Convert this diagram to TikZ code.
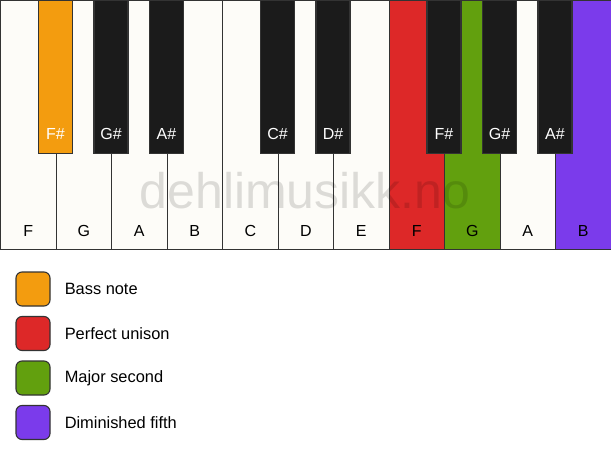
\documentclass[tikz,border=0pt]{standalone}
\usepackage{fontspec}
\setmainfont{Liberation Sans}
\usepackage{tikz}
\usetikzlibrary{positioning}
\definecolor{keywhite}{HTML}{FDFCF8}
\definecolor{keyblack}{HTML}{1B1B1B}
\definecolor{keyedge}{HTML}{333333}
\definecolor{bassorange}{HTML}{F39C0F}
\definecolor{unisonred}{HTML}{DD2828}
\definecolor{secondgreen}{HTML}{62A00E}
\definecolor{fifthpurple}{HTML}{7B3BEB}
\tikzstyle{wkey}=[draw=keyedge, line width=1.1pt, minimum width=55.5pt, minimum height=249pt, inner sep=0pt, anchor=north west]
\tikzstyle{bkey}=[draw=keyedge, line width=1.1pt, minimum width=34pt, minimum height=153pt, inner sep=0pt, anchor=north]
\tikzstyle{keytext}=[font=\fontsize{16}{19}\selectfont, inner sep=0pt]
\tikzstyle{legbox}=[draw=keyedge, line width=1.1pt, rounded corners=6pt, minimum size=34pt, inner sep=0pt]
\tikzstyle{legtext}=[font=\fontsize{16.4}{19}\selectfont, inner sep=0pt, anchor=west]

\begin{document}
\begin{tikzpicture}[x=1pt, y=-1pt]
\useasboundingbox[fill=white] (0,0) rectangle (611,461);
% white keys
\foreach \name/\col [count=\i] in {F/keywhite, G/keywhite, A/keywhite, B/keywhite, C/keywhite, D/keywhite, E/keywhite, F/unisonred, G/secondgreen, A/keywhite, B/fifthpurple} {
  \node[wkey, fill=\col] (w\i) at ({(\i-1)*55.5},0) {};
  \node[keytext] (wl\i) at ([yshift=19pt]w\i.south) {\name};
}
% watermark
\node[font=\fontsize{50}{56}\selectfont, text=black, text opacity=0.13, inner sep=0pt] (mark) at (305,191) {dehlimusikk.no};
% black keys
\foreach \name/\j/\col in {F\#/1/bassorange, G\#/2/keyblack, A\#/3/keyblack, C\#/5/keyblack, D\#/6/keyblack, F\#/8/keyblack, G\#/9/keyblack, A\#/10/keyblack} {
  \node[bkey, fill=\col] (b\j) at ({\j*55.5},0) {};
  \node[keytext, text=white] (bl\j) at ([yshift=20pt]b\j.south) {\name};
}
% legend
\foreach \txt/\col [count=\k] in {Bass note/bassorange, Perfect unison/unisonred, Major second/secondgreen, Diminished fifth/fifthpurple} {
  \node[legbox, fill=\col] (l\k) at (33,{289+(\k-1)*44.5}) {};
  \node[legtext, right=14pt of l\k] (lt\k) {\txt};
}
\end{tikzpicture}
\end{document}
